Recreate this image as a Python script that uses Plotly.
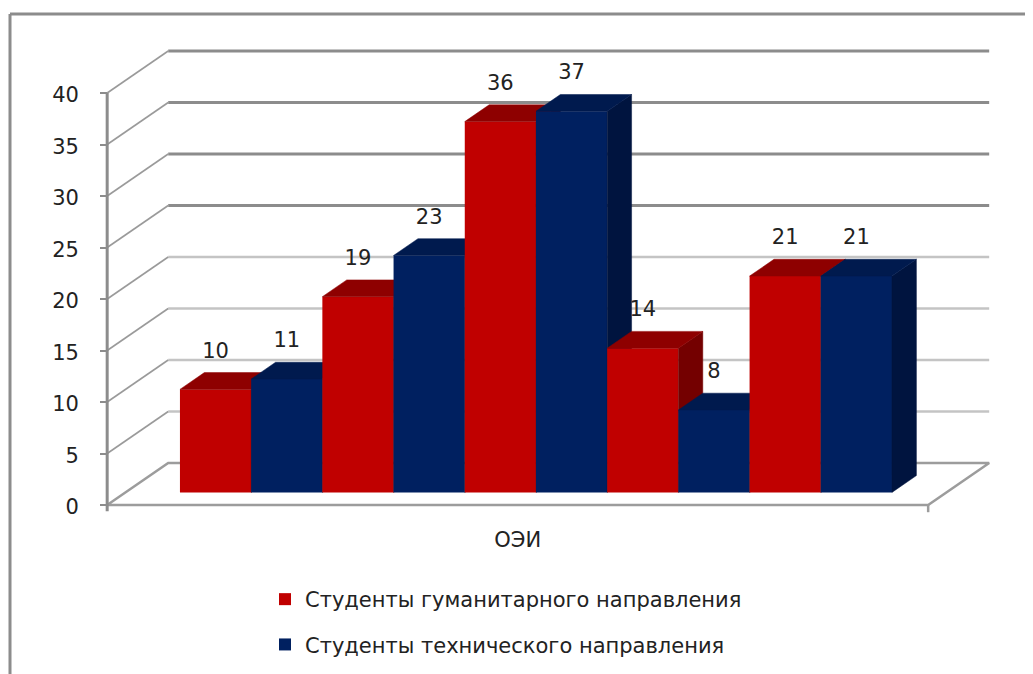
import plotly.graph_objects as go

# ---------------- data ----------------
category = "ОЭИ"
series_names = ["Студенты гуманитарного направления", "Студенты технического направления"]
humanities = [10, 19, 36, 14, 21]
technical = [11, 23, 37, 8, 21]
y_ticks = [0, 5, 10, 15, 20, 25, 30, 35, 40]

# ---------------- style ----------------
FRONT_COLORS = ["#C00000", "#002060"]
TOP_COLORS = ["#8E0000", "#001A4E"]
SIDE_COLORS = ["#740000", "#00143F"]
FONT = "DejaVu Sans"
TEXT_COLOR = "#222222"

# 3-D projection in data units (x: one bar width, y: one value unit)
DEPTH_X, DEPTH_Y = 0.857, 4.08      # full depth of the chart box
BAR_FRONT, BAR_DEPTH = 0.30, 0.40   # bar position / depth as fraction of box depth
GAP = 0.765                          # floor margin on each side (bar widths)
LABEL_OFF = 3.6                      # data label distance above bar front top
X_RANGE = [-0.171, 12.539]
Y_RANGE = [-0.971, 45.146]

bars = []  # (value, series index)
for h, t in zip(humanities, technical):
    bars.append((h, 0))
    bars.append((t, 1))
n_bars = len(bars)
floor_w = 2 * GAP + n_bars
fx, fy = BAR_FRONT * DEPTH_X, BAR_FRONT * DEPTH_Y
bdx, bdy = BAR_DEPTH * DEPTH_X, BAR_DEPTH * DEPTH_Y
top_val = y_ticks[-1]

fig = go.Figure()

# ---------------- walls / gridlines ----------------
def add_lines(xs, ys, color, width, zorder=0):
    fig.add_trace(go.Scatter(x=xs, y=ys, mode="lines", line=dict(color=color, width=width),
                             hoverinfo="skip", showlegend=False, zorder=zorder))

dark_x, dark_y, light_x, light_y, diag_x, diag_y = [], [], [], [], [], []
for k in y_ticks[1:]:
    diag_x += [0, DEPTH_X, None]
    diag_y += [k, k + DEPTH_Y, None]
    if k >= 25:
        dark_x += [DEPTH_X, floor_w + DEPTH_X, None]
        dark_y += [k + DEPTH_Y, k + DEPTH_Y, None]
    else:
        light_x += [DEPTH_X, floor_w + DEPTH_X, None]
        light_y += [k + DEPTH_Y, k + DEPTH_Y, None]
add_lines(light_x, light_y, "#c4c4c4", 2.5)
add_lines(dark_x, dark_y, "#8c8c8c", 3)
add_lines(diag_x, diag_y, "#9a9a9a", 1.6)
# floor
add_lines([0, DEPTH_X, floor_w + DEPTH_X, floor_w, 0],
          [0, DEPTH_Y, DEPTH_Y, 0, 0], "#9c9c9c", 2.5)
add_lines([floor_w, floor_w], [0, -0.7], "#9c9c9c", 2.5)
# value axis line
add_lines([0, 0], [-0.6, top_val], "#8c8c8c", 3)

# ---------------- 3-D bars ----------------
shown = set()
for i, (v, s) in enumerate(bars):
    x0 = GAP + i + fx
    x1 = x0 + 1
    top = fy + v
    z = i + 1
    # side face
    fig.add_trace(go.Scatter(x=[x1, x1, x1 + bdx, x1 + bdx, x1],
                             y=[fy, top, top + bdy, fy + bdy, fy],
                             mode="lines", fill="toself", fillcolor=SIDE_COLORS[s],
                             line=dict(color=SIDE_COLORS[s], width=0.5),
                             hoverinfo="skip", showlegend=False, zorder=z))
    # top face
    fig.add_trace(go.Scatter(x=[x0, x1, x1 + bdx, x0 + bdx, x0],
                             y=[top, top, top + bdy, top + bdy, top],
                             mode="lines", fill="toself", fillcolor=TOP_COLORS[s],
                             line=dict(color=TOP_COLORS[s], width=0.5),
                             hoverinfo="skip", showlegend=False, zorder=z))
    # front face
    fig.add_trace(go.Bar(x=[x0 + 0.5], y=[v], base=[fy], width=[1],
                         marker=dict(color=FRONT_COLORS[s], line=dict(width=0)),
                         name=series_names[s], legendgroup=str(s), legendrank=s + 1,
                         showlegend=s not in shown, hoverinfo="skip", zorder=z))
    shown.add(s)

# ---------------- data labels ----------------
fig.add_trace(go.Scatter(
    x=[GAP + i + fx + 0.5 for i in range(n_bars)],
    y=[fy + v + LABEL_OFF for v, _ in bars],
    text=[str(v) for v, _ in bars], mode="text", textposition="middle center",
    textfont=dict(family=FONT, size=21, color=TEXT_COLOR),
    hoverinfo="skip", showlegend=False, cliponaxis=False, zorder=50))

# ---------------- layout ----------------
PAGE_W, PAGE_H = 1033, 674
OFF = 8                     # page margin around the figure
L, R, T, B = 95, 1000, 40, 515   # plot area in page pixels
def px_x(p):
    return (p - L) / (R - L)
def px_y(p):
    return (B - p) / (B - T)

fig.update_layout(
    width=PAGE_W - OFF, height=PAGE_H - OFF, autosize=False,
    margin=dict(l=L - OFF, r=PAGE_W - R, t=T - OFF, b=PAGE_H - B, pad=0, autoexpand=False),
    paper_bgcolor="white", plot_bgcolor="white",
    barmode="overlay", hovermode=False,
    font=dict(family=FONT, size=21, color=TEXT_COLOR),
    xaxis=dict(range=X_RANGE, showgrid=False, zeroline=False, showline=False, automargin=False,
               tickvals=[floor_w / 2], ticktext=[category], ticks="",
               ticklabelstandoff=10, tickfont=dict(size=21, color=TEXT_COLOR)),
    yaxis=dict(range=Y_RANGE, showgrid=False, zeroline=False, showline=False, automargin=False,
               anchor="free", position=(0 - X_RANGE[0]) / (X_RANGE[1] - X_RANGE[0]),
               tickvals=y_ticks, ticks="outside", ticklen=7, tickwidth=2, tickcolor="#8c8c8c",
               ticklabelstandoff=17, ticklabelshift=2,
               tickfont=dict(size=21, color=TEXT_COLOR)),
    legend=dict(x=px_x(265), y=px_y(579), xanchor="left", yanchor="top",
                traceorder="grouped", tracegroupgap=15, bgcolor="rgba(0,0,0,0)",
                font=dict(family=FONT, size=21, color=TEXT_COLOR)),
    shapes=[
        dict(type="line", xref="paper", yref="paper", x0=px_x(10), x1=px_x(1040),
             y0=px_y(14), y1=px_y(14), line=dict(color="#8c8c8c", width=3)),
        dict(type="line", xref="paper", yref="paper", x0=px_x(10), x1=px_x(10),
             y0=px_y(14), y1=px_y(690), line=dict(color="#8c8c8c", width=3)),
    ],
)

fig.write_html("out.html")
